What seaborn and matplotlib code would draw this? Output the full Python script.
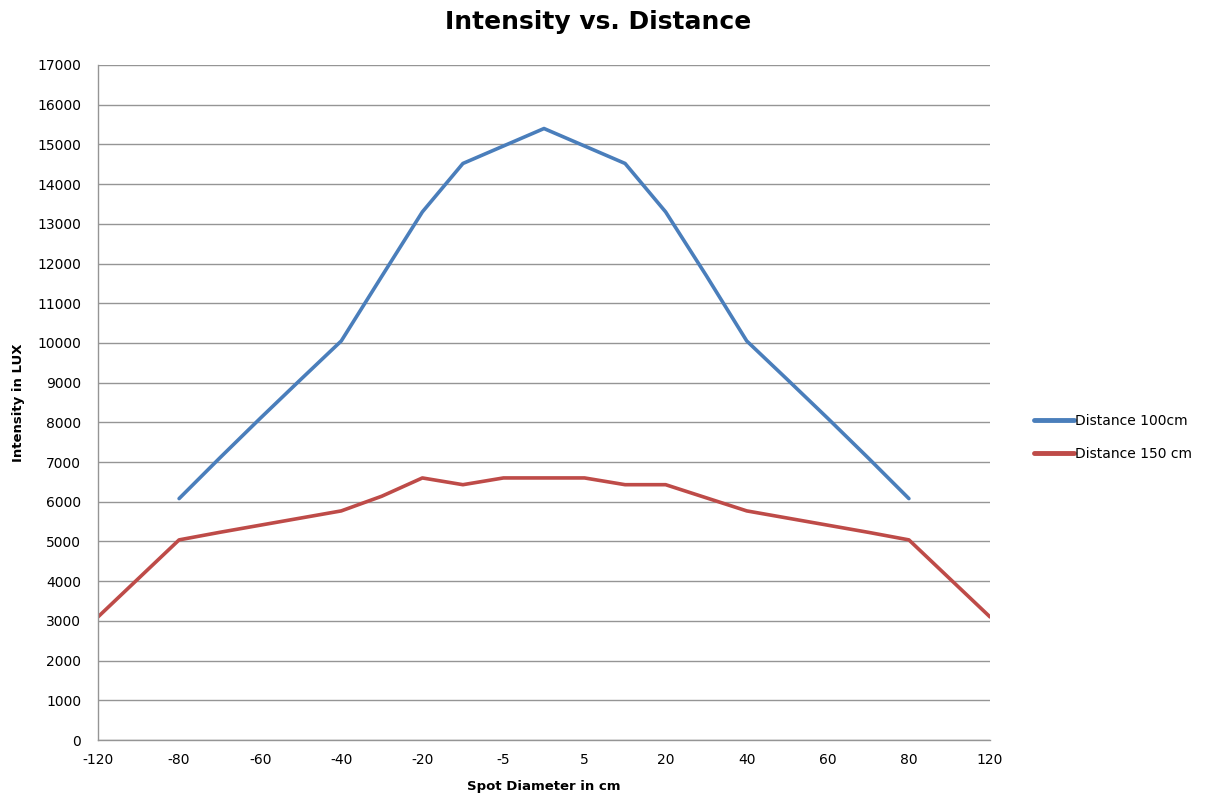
import matplotlib
matplotlib.use("Agg")
import matplotlib.pyplot as plt
import seaborn as sns
import numpy as np
import pandas as pd

# Categories (Excel category axis, labels shown every other category)
categories = [-120, -100, -80, -70, -60, -50, -40, -30, -20, -10, -5, 0,
              5, 10, 20, 30, 40, 50, 60, 70, 80, 100, 120]
dist_100 = [np.nan, np.nan, 6080, 7100, 8100, 9080, 10050, 11680, 13300, 14520,
            14960, 15400, 14960, 14520, 13300, 11700, 10050, 9080, 8100, 7100,
            6080, np.nan, np.nan]
dist_150 = [3100, 4070, 5040, 5230, 5410, 5590, 5770, 6140, 6600, 6430, 6600,
            6600, 6600, 6430, 6430, 6100, 5770, 5590, 5410, 5230, 5040, 4070, 3100]
series_names = ["Distance 100cm", "Distance 150 cm"]
y_ticks = list(range(0, 17001, 1000))

sns.set_theme(style="white")
plt.rcParams["font.family"] = ["DejaVu Sans"]
plt.rcParams["text.color"] = "black"

pos = np.arange(len(categories))
df = pd.DataFrame({
    "pos": np.concatenate([pos, pos]),
    "value": dist_100 + dist_150,
    "series": [series_names[0]] * len(pos) + [series_names[1]] * len(pos),
})

fig = plt.figure(figsize=(12.1, 8.05), dpi=100)
ax = fig.add_axes([98 / 1210, 65 / 805, (990 - 98) / 1210, (740 - 65) / 805])

palette = {series_names[0]: "#4A7EBB", series_names[1]: "#BE4B48"}
sns.lineplot(data=df, x="pos", y="value", hue="series", palette=palette,
             linewidth=2.6, ax=ax, legend=True, sort=False)

ax.set_xlim(0, len(categories) - 1)
ax.set_ylim(0, 17000)
ax.set_yticks(y_ticks)
ax.set_yticklabels([str(t) for t in y_ticks], fontsize=10, color="black")
ax.set_xticks(pos[::2])
ax.set_xticklabels([str(c) for c in categories[::2]], fontsize=10, color="black")
ax.tick_params(axis="y", length=0, pad=12)
ax.tick_params(axis="x", length=0, pad=9)
ax.grid(axis="y", color="#959595", linewidth=1.0)
ax.grid(axis="x", visible=False)
ax.set_axisbelow(True)
for side in ["top", "right"]:
    ax.spines[side].set_visible(False)
for side in ["left", "bottom"]:
    ax.spines[side].set_color("#959595")
    ax.spines[side].set_linewidth(1.0)

ax.set_xlabel("Spot Diameter in cm", fontsize=9.5, fontweight="bold", labelpad=10,
              color="black")
ax.set_ylabel("Intensity in LUX", fontsize=9.5, fontweight="bold", labelpad=9,
              color="black")

fig.text(598 / 1210, 1 - 22 / 805, "Intensity vs. Distance", ha="center", va="center",
         fontsize=18, fontweight="bold", color="black")

leg = ax.legend(loc="center left", bbox_to_anchor=(1.035, 0.448), frameon=False,
                fontsize=10, handlelength=2.9, handletextpad=0.1, labelspacing=1.35)
for line in leg.get_lines():
    line.set_linewidth(3.5)
for t in leg.get_texts():
    t.set_color("black")

fig.savefig("out.png", dpi=100)
